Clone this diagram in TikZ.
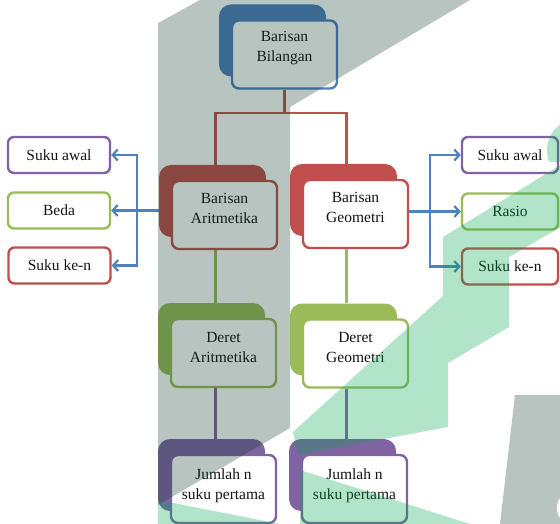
\documentclass[tikz,border=0pt]{standalone}
\usepackage{fontspec}
\setmainfont{Liberation Serif}
\usetikzlibrary{arrows.meta,calc}
\definecolor{cBlue}{HTML}{4F81BD}
\definecolor{cRed}{HTML}{C0504D}
\definecolor{cGreen}{HTML}{9BBB59}
\definecolor{cPurple}{HTML}{8064A2}
\definecolor{wmGray}{RGB}{10,52,38}
\definecolor{wmGreen}{RGB}{0,166,81}
\definecolor{txtc}{HTML}{141414}
\begin{document}
\begin{tikzpicture}[x=1bp,y=-1bp,
  frontbox/.style={draw=#1, line width=2.4bp, fill=white, rounded corners=7bp, minimum width=105bp, minimum height=68bp, inner sep=0pt},
  backbox/.style={fill=#1, rounded corners=12bp, minimum width=107bp, minimum height=72bp, inner sep=0pt},
  leafbox/.style={draw=#1, line width=2.4bp, fill=white, rounded corners=6bp, minimum width=102bp, minimum height=36bp, inner sep=0pt, font=\fontsize{15.5bp}{18bp}\selectfont, text=txtc},
  lbl/.style={align=center, font=\fontsize{15.5bp}{20bp}\selectfont, text=txtc, inner sep=0pt},
  conn/.style={draw=#1, line width=2.2bp},
  arr/.style={draw=cBlue, line width=2.2bp, -{Straight Barb[length=5bp,width=11bp]}},
  wmg/.style={fill=wmGray, opacity=0.29},
  wmn/.style={fill=wmGreen, opacity=0.3},
]
\useasboundingbox (0,0) rectangle (560,524);
\fill[white] (0,0) rectangle (560,524);

% hierarchy boxes
\node[backbox=cBlue]    (BBb) at (272.5,40.5) {};
\node[frontbox=cBlue]   (BB)  at (284.5,54.5) {};
\node[backbox=cRed]     (BAb) at (212.5,201) {};
\node[frontbox=cRed]    (BA)  at (224.5,215) {};
\node[backbox=cRed]     (BGb) at (343.5,200) {};
\node[frontbox=cRed]    (BG)  at (355.5,214) {};
\node[backbox=cGreen]   (DAb) at (211.5,339) {};
\node[frontbox=cGreen]  (DA)  at (223.5,353) {};
\node[backbox=cGreen]   (DGb) at (343.5,339.5) {};
\node[frontbox=cGreen]  (DG)  at (355.5,353.5) {};
\node[backbox=cPurple]  (JAb) at (211.5,475) {};
\node[frontbox=cPurple] (JA)  at (223.5,489) {};
\node[backbox=cPurple]  (JGb) at (342.5,475) {};
\node[frontbox=cPurple] (JG)  at (354.5,489) {};

% connectors
\draw[conn=cRed] (BB.south) -- ++(0,23) coordinate (BBsplit) -| ([xshift=3bp]BAb.north);
\draw[conn=cRed] (BBsplit) -| ([xshift=3bp]BGb.north);
\draw[conn=cGreen] ([xshift=4bp]DAb.north |- BA.south) -- ([xshift=4bp]DAb.north);
\draw[conn=cGreen] ([xshift=3bp]DGb.north |- BG.south) -- ([xshift=3bp]DGb.north);
\draw[conn=cPurple] ([xshift=4bp]JAb.north |- DA.south) -- ([xshift=4bp]JAb.north);
\draw[conn=cPurple] ([xshift=4bp]JGb.north |- DG.south) -- ([xshift=4bp]JGb.north);

% leaf boxes
\node[leafbox=cPurple] (SAL) at (59,155) {Suku awal};
\node[leafbox=cGreen]  (BD)  at (59,210.5) {Beda};
\node[leafbox=cRed]    (SKL) at (59.5,265.5) {Suku ke-n};
\node[leafbox=cPurple, minimum width=96bp] (SAR) at (510,155) {Suku awal};
\node[leafbox=cGreen,  minimum width=96bp] (RS)  at (510,211.5) {Rasio};
\node[leafbox=cRed,    minimum width=96bp] (SKR) at (510,266.5) {Suku ke-n};

\coordinate (LJ) at (137,210.5);
\coordinate (RJ) at (430,211.5);
\draw[arr] (BAb.west |- BD.east) -- (BD.east);
\draw[arr] (LJ) |- (SAL.east);
\draw[arr] (LJ) |- (SKL.east);
\draw[arr] (BG.east |- RS.west) -- (RS.west);
\draw[arr] (RJ) |- (SAR.west);
\draw[arr] (RJ) |- (SKR.west);

% labels
\node[lbl] (BBt) at (284.5,48) {Barisan\\Bilangan};
\node[lbl] (BAt) at (224.5,208) {Barisan\\Aritmetika};
\node[lbl] (BGt) at (355.5,207) {Barisan\\Geometri};
\node[lbl] (DAt) at (223.5,347) {Deret\\Aritmetika};
\node[lbl] (DGt) at (355.5,347) {Deret\\Geometri};
\node[lbl] (JAt) at (223.5,486) {Jumlah n\\suku pertama};
\node[lbl] (JGt) at (354.5,486) {Jumlah n\\suku pertama};

% watermark
\fill[wmg] (158,23) -- (200,0) -- (470,0) -- (290,107) -- (290,428) -- (158,505) -- cycle;
\fill[wmg] (515,395) -- (560,395) -- (560,524) -- (500,524) -- cycle;
\fill[white] (576,508) circle (19);
\fill[wmn] (585,150) -- (443,237) -- (443,296) -- (293,432) -- (298,455) -- (448,427) -- (448,363) -- (509,327) -- (509,257) -- (585,213) -- cycle;
\begin{scope}
  \clip (547,120) rectangle (560,162);
  \fill[wmn] (578,150) circle (31);
\end{scope}
\fill[wmn] (300,470) -- (470,524) -- (300,524) -- cycle;
\fill[wmn] (158,500) -- (280,524) -- (158,524) -- cycle;
\end{tikzpicture}
\end{document}
